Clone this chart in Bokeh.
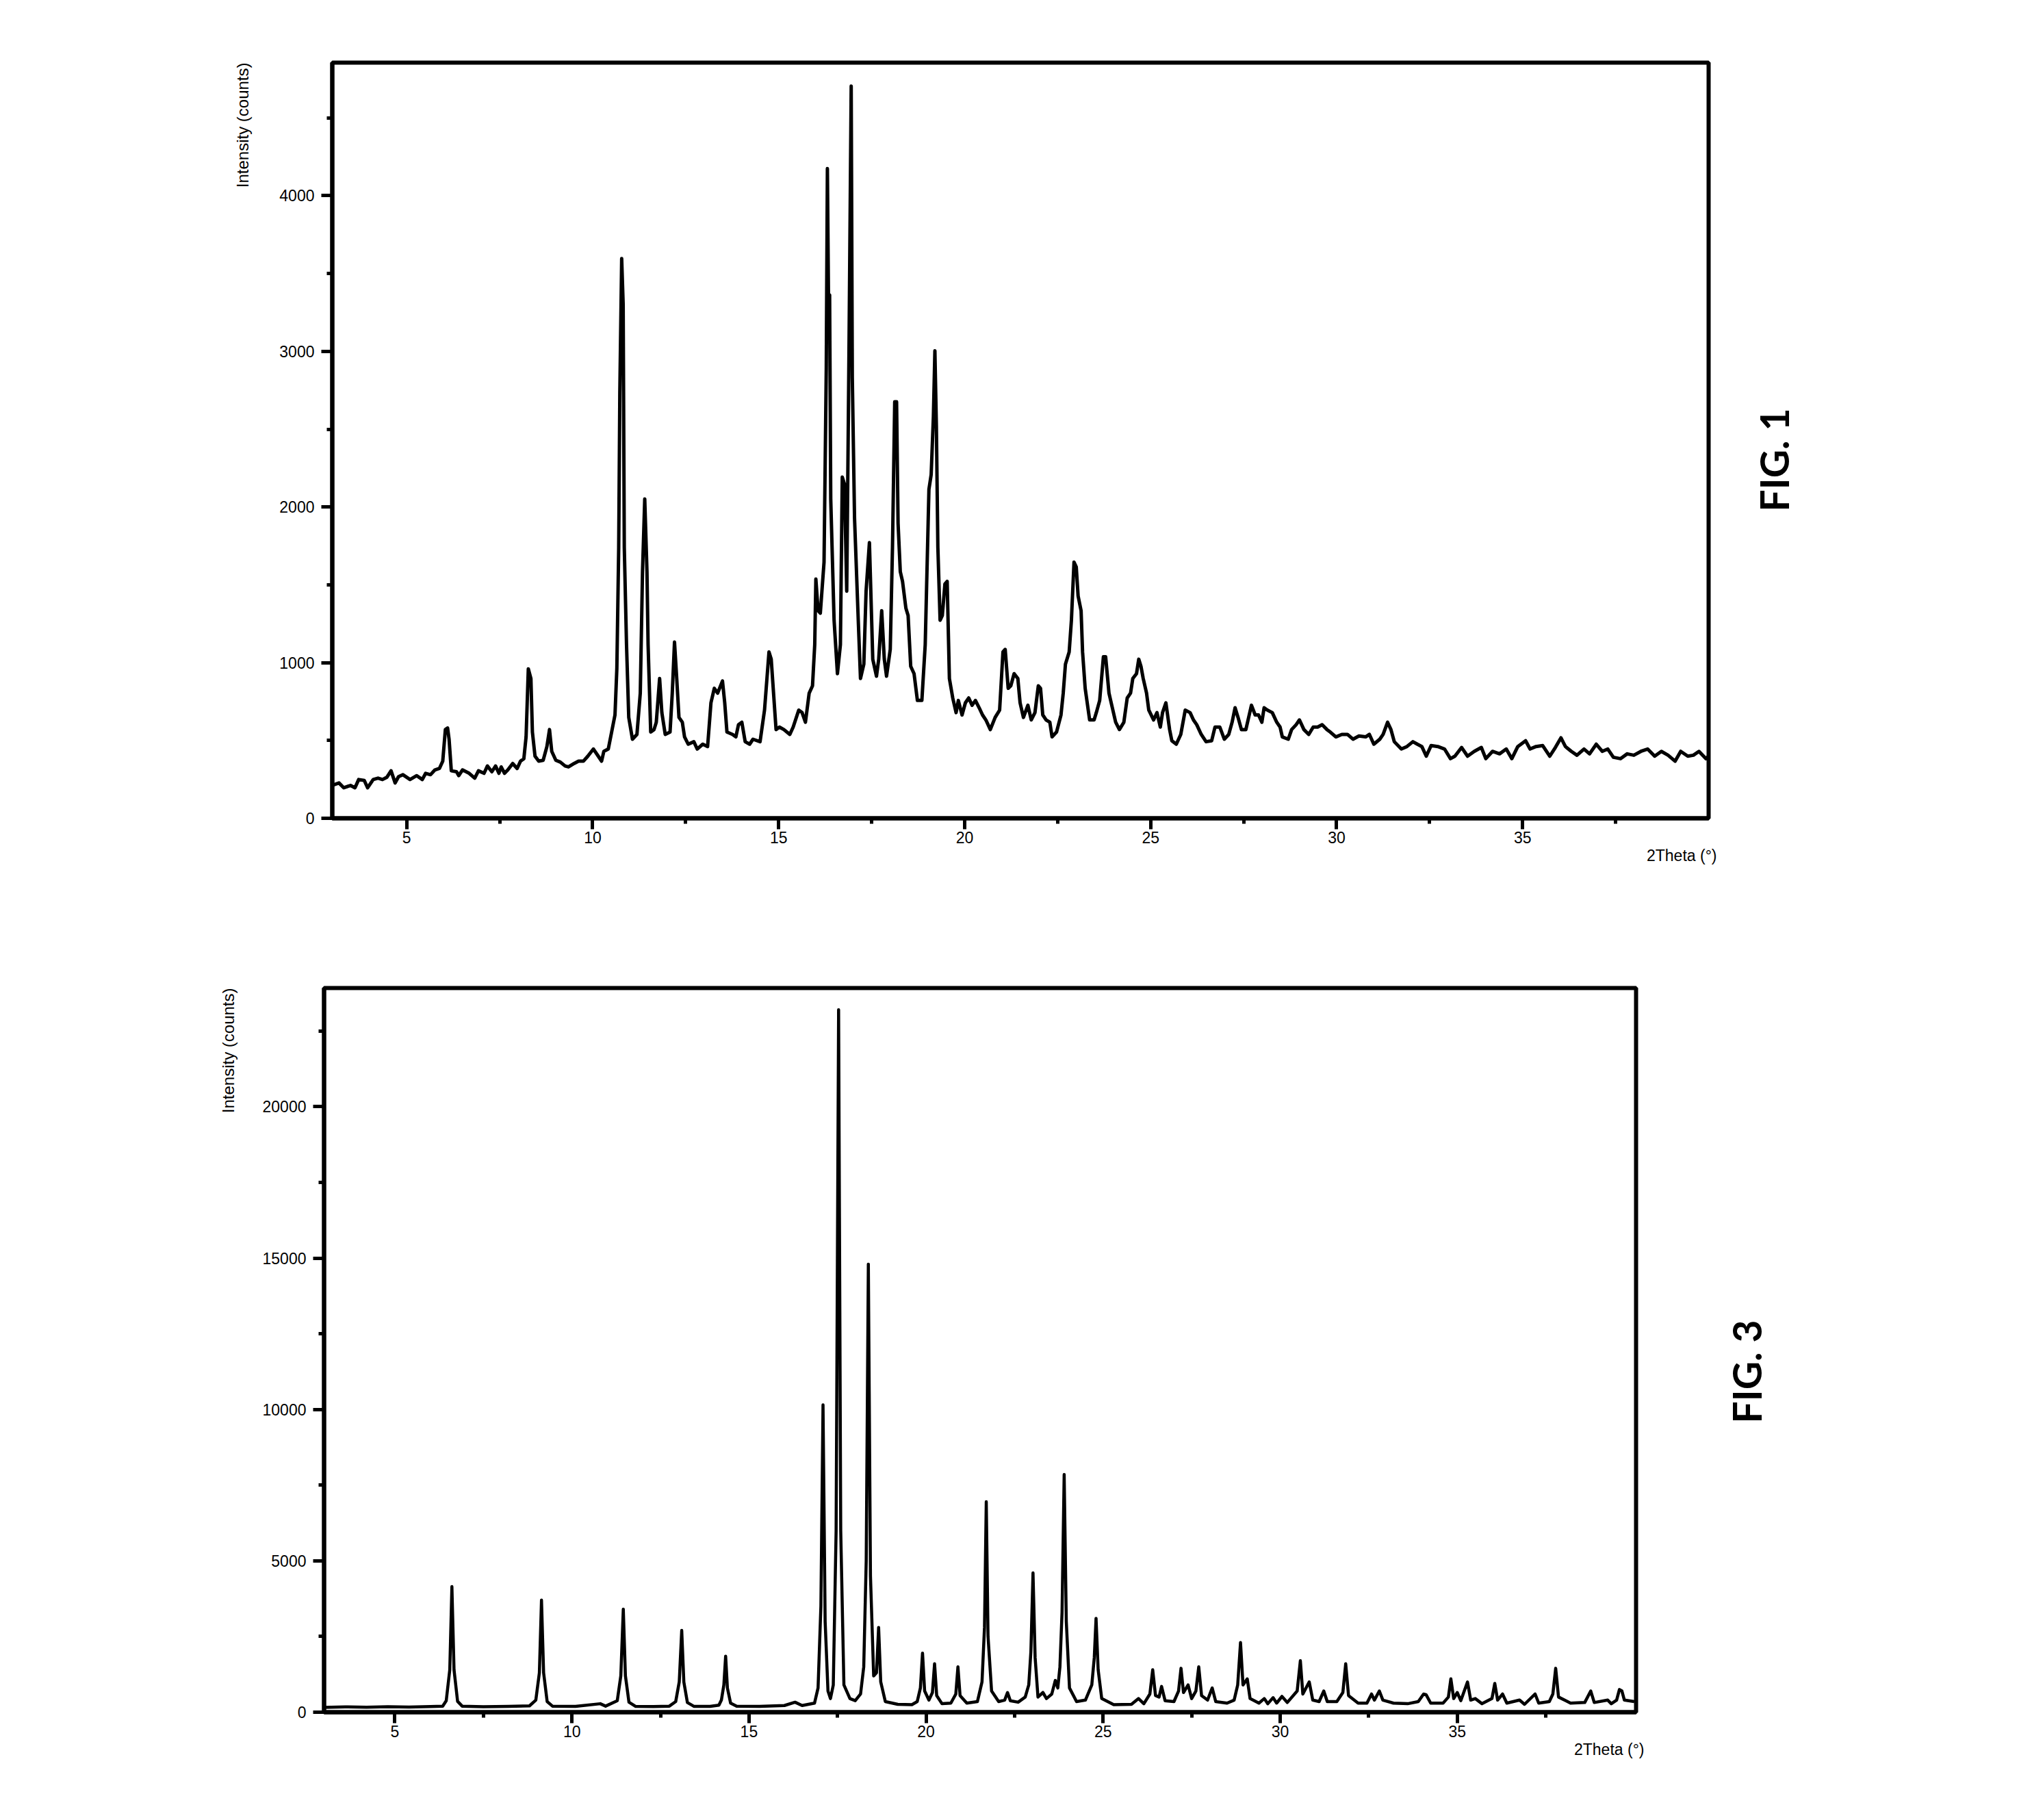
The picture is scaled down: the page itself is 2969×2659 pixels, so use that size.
import math
from bokeh.plotting import figure
from bokeh.layouts import row
from bokeh.models import Range1d, FixedTicker, Title
from bokeh.embed import file_html
from bokeh.resources import INLINE

# ---------------- FIG. 1 data (2Theta in degrees, intensity in counts) ----------------
fig1_x_a = [3.00, 3.18, 3.31, 3.49, 3.61, 3.71, 3.86, 3.95, 4.10, 4.23,
            4.35, 4.47, 4.58, 4.69, 4.78, 4.90, 5.09, 5.27, 5.42, 5.51,
            5.64, 5.76, 5.88, 5.97, 6.04, 6.10, 6.14, 6.20, 6.34, 6.40,
            6.50, 6.68, 6.83, 6.93, 7.08, 7.17, 7.29, 7.39, 7.48, 7.54,
            7.63, 7.72, 7.85, 7.97, 8.06, 8.15, 8.21, 8.27, 8.34, 8.38,
            8.45, 8.55, 8.67, 8.77, 8.84, 8.90, 9.01, 9.13, 9.26, 9.35,
            9.50, 9.62, 9.75, 9.87, 10.02, 10.15, 10.24, 10.30, 10.42, 10.51,
            10.60, 10.65, 10.70, 10.73, 10.78, 10.82, 10.85, 10.91, 10.97, 11.07,
            11.19, 11.28, 11.34, 11.40, 11.46, 11.49, 11.56, 11.65, 11.71, 11.80,
            11.86, 11.95, 12.08, 12.14, 12.20, 12.26, 12.32]
fig1_y_a = [211, 227, 196, 211, 196, 249, 243, 196, 249, 258,
            249, 264, 305, 227, 267, 280, 249, 274, 249, 289,
            280, 311, 320, 367, 570, 580, 508, 305, 299, 274,
            311, 289, 258, 305, 289, 336, 299, 336, 289, 330,
            289, 311, 352, 320, 367, 383, 523, 960, 898, 554,
            399, 367, 373, 461, 570, 430, 373, 361, 336, 330,
            352, 367, 367, 399, 445, 399, 367, 430, 445, 554,
            664, 960, 1740, 2738, 3596, 3300, 1740, 1116, 648, 508,
            539, 804, 1584, 2052, 1584, 1116, 554, 570, 617, 898,
            679, 539, 554, 804, 1132, 898, 648]

fig1_x_b = [12.41, 12.47, 12.57, 12.72, 12.81, 12.96, 13.09, 13.18, 13.27, 13.36,
            13.49, 13.55, 13.61, 13.76, 13.85, 13.92, 14.01, 14.10, 14.22, 14.31,
            14.50, 14.62, 14.74, 14.80, 14.93, 15.02, 15.14, 15.30, 15.39, 15.54,
            15.63, 15.72, 15.82, 15.91, 15.97, 16.00, 16.06, 16.12, 16.22, 16.28,
            16.31, 16.34, 16.37, 16.40, 16.49, 16.58, 16.66, 16.71, 16.77, 16.83,
            16.89, 16.95, 16.98, 17.04, 17.14, 17.20, 17.29, 17.35, 17.44, 17.53,
            17.63, 17.69, 17.77, 17.84, 17.90, 18.00, 18.06, 18.12, 18.17, 18.21,
            18.27, 18.33, 18.42, 18.48, 18.55, 18.64, 18.73, 18.85, 18.94, 19.04,
            19.10, 19.16, 19.20, 19.24, 19.28, 19.34, 19.40, 19.47, 19.53, 19.59,
            19.68, 19.77, 19.83, 19.93, 20.02, 20.11, 20.20, 20.29, 20.39, 20.48,
            20.57, 20.69, 20.82, 20.94, 21.03, 21.09, 21.17, 21.24, 21.33, 21.43,
            21.49]
fig1_y_b = [617, 523, 476, 492, 445, 476, 461, 742, 835, 804,
            882, 742, 554, 539, 523, 601, 617, 492, 476, 508,
            492, 695, 1069, 1022, 570, 586, 570, 539, 586, 695,
            679, 617, 804, 851, 1116, 1537, 1334, 1318, 1646, 2894,
            4174, 3331, 3362, 2052, 1272, 929, 1116, 2192, 2146, 1459,
            2988, 4704, 2832, 1927, 1272, 898, 991, 1459, 1771, 1022,
            913, 1022, 1334, 1022, 913, 1085, 1740, 2676, 2676, 1896,
            1584, 1522, 1350, 1303, 976, 929, 757, 757, 1116, 2114,
            2208, 2582, 3004, 2520, 1740, 1272, 1303, 1506, 1522, 898,
            773, 679, 757, 664, 742, 773, 726, 757, 710, 664,
            632, 570, 648, 695, 1069, 1085, 835, 851, 929, 898,
            742]

fig1_x_c = [21.58, 21.70, 21.79, 21.89, 21.98, 22.04, 22.10, 22.19, 22.29, 22.35,
            22.47, 22.59, 22.65, 22.71, 22.81, 22.87, 22.94, 23.00, 23.05, 23.13,
            23.17, 23.24, 23.36, 23.48, 23.54, 23.63, 23.73, 23.79, 23.88, 23.97,
            24.06, 24.16, 24.28, 24.37, 24.46, 24.52, 24.62, 24.68, 24.74, 24.80,
            24.89, 24.95, 25.08, 25.17, 25.26, 25.32, 25.41, 25.51, 25.57, 25.69,
            25.81, 25.93, 26.06, 26.15, 26.24, 26.36, 26.49, 26.64, 26.73, 26.86,
            26.98, 27.10, 27.19, 27.27, 27.35, 27.44, 27.56, 27.65, 27.71, 27.81,
            27.90, 27.99, 28.05, 28.14, 28.27, 28.39, 28.48, 28.54, 28.70, 28.79,
            28.91, 29.00, 29.12, 29.25, 29.37, 29.49, 29.61, 29.74, 29.83, 29.98,
            30.14, 30.29, 30.44, 30.60, 30.78]
fig1_y_c = [648, 726, 632, 679, 851, 835, 664, 632, 617, 523,
            554, 664, 804, 991, 1069, 1272, 1646, 1615, 1428, 1334,
            1069, 835, 632, 632, 679, 757, 1038, 1038, 804, 710,
            617, 570, 617, 773, 804, 898, 929, 1022, 976, 898,
            804, 695, 632, 679, 586, 679, 742, 570, 498, 476,
            539, 695, 679, 632, 601, 539, 492, 498, 586, 586,
            508, 539, 617, 710, 648, 570, 570, 664, 726, 664,
            664, 617, 710, 695, 679, 617, 586, 523, 508, 570,
            601, 632, 570, 539, 586, 586, 601, 570, 554, 523,
            539, 539, 508, 529, 523]

fig1_x_d = [30.88, 31.00, 31.16, 31.25, 31.37, 31.46, 31.55, 31.74, 31.89, 32.05,
            32.17, 32.29, 32.41, 32.54, 32.72, 32.90, 33.06, 33.18, 33.36, 33.52,
            33.70, 33.89, 34.01, 34.19, 34.38, 34.56, 34.71, 34.87, 35.08, 35.20,
            35.36, 35.54, 35.73, 35.88, 36.03, 36.15, 36.31, 36.46, 36.65, 36.80,
            36.98, 37.14, 37.29, 37.44, 37.63, 37.81, 37.99, 38.18, 38.36, 38.55,
            38.73, 38.91, 39.10, 39.25, 39.44, 39.59, 39.74, 39.93, 40.00]
fig1_y_d = [539, 476, 508, 539, 617, 570, 492, 445, 461, 492,
            476, 461, 399, 467, 461, 445, 383, 399, 455, 399,
            430, 455, 383, 430, 414, 445, 383, 461, 498, 445,
            461, 467, 399, 455, 517, 461, 430, 405, 445, 414,
            476, 430, 445, 392, 383, 414, 405, 430, 445, 399,
            430, 405, 367, 430, 399, 405, 430, 383, 400]

# ---------------- FIG. 3 data ----------------
fig3_x = [3.00, 3.60, 4.20, 4.80, 5.40, 6.00, 6.35,
          6.45, 6.55, 6.61, 6.67, 6.77, 6.90,
          7.50, 8.20, 8.80,
          8.98, 9.08, 9.14, 9.20, 9.30, 9.45,
          10.10, 10.80, 10.95,
          11.28, 11.38, 11.45, 11.51, 11.61, 11.80,
          12.30, 12.75,
          12.93, 13.03, 13.10, 13.16, 13.26, 13.45,
          13.90, 14.15,
          14.22, 14.29, 14.34, 14.39, 14.48, 14.65,
          15.30, 16.00, 16.30, 16.50, 16.85,
          16.95, 17.03, 17.09, 17.15, 17.23, 17.30,
          17.38, 17.46, 17.53, 17.59, 17.68, 17.85, 18.00, 18.15,
          18.24, 18.31, 18.37, 18.43, 18.52,
          18.60, 18.66, 18.72, 18.85,
          19.20, 19.60, 19.75,
          19.84, 19.90, 19.96, 20.08,
          20.18, 20.24, 20.30, 20.45, 20.70,
          20.84, 20.90, 20.96, 21.15, 21.45,
          21.58, 21.65, 21.70, 21.75, 21.85, 22.05,
          22.22, 22.30, 22.38, 22.60, 22.80,
          22.90, 22.96, 23.02, 23.08, 23.16,
          23.30, 23.40, 23.55, 23.65, 23.72,
          23.78, 23.84, 23.90, 23.96, 24.05, 24.25, 24.50,
          24.68, 24.75, 24.80, 24.86, 24.96, 25.30, 25.80,
          26.00, 26.15,
          26.32, 26.40, 26.48, 26.58,
          26.65, 26.75, 27.00,
          27.13, 27.20, 27.27,
          27.40, 27.50,
          27.62, 27.70, 27.78, 27.95,
          28.08, 28.18, 28.50, 28.70,
          28.80, 28.88, 28.95,
          29.07, 29.15, 29.40,
          29.55, 29.65, 29.80, 29.90, 30.05, 30.20,
          30.48, 30.57, 30.64,
          30.82, 30.92, 31.10,
          31.23, 31.33, 31.60,
          31.77, 31.85, 31.93, 32.20, 32.45,
          32.58, 32.66,
          32.80, 32.90, 33.20, 33.60, 33.90,
          34.05, 34.12, 34.25, 34.60,
          34.75, 34.82, 34.90,
          35.00, 35.10,
          35.29, 35.38,
          35.51, 35.70,
          35.98, 36.06, 36.14,
          36.28, 36.40,
          36.76, 36.90,
          37.20, 37.30, 37.60,
          37.70, 37.78, 37.86, 38.20, 38.60,
          38.77, 38.87,
          39.25, 39.35,
          39.50, 39.58, 39.65, 39.72, 40.00]
fig3_y = [160, 175, 165, 180, 170, 185, 200,
          380, 1400, 4150, 1400, 360, 200,
          180, 190, 210,
          400, 1300, 3700, 1300, 350, 200,
          190, 280, 200,
          380, 1200, 3400, 1200, 330, 190,
          185, 200,
          350, 1000, 2700, 1000, 320, 190,
          190, 230,
          400, 900, 1850, 800, 300, 200,
          190, 220, 330, 220, 300,
          800, 3500, 10150, 3000, 700, 450,
          900, 6000, 23200, 6000, 900, 450, 380, 600,
          1500, 5000, 14800, 4500, 1200,
          1300, 2800, 1000, 350,
          260, 250, 350,
          800, 1950, 700, 400,
          650, 1600, 550, 280, 300,
          600, 1500, 550, 300, 350,
          1000, 2800, 6950, 2500, 700, 350,
          400, 650, 380, 330, 500,
          900, 2000, 4600, 1800, 500,
          650, 450, 600, 1050, 800,
          1500, 3300, 7850, 3000, 800, 350, 400,
          900, 1800, 3100, 1400, 450, 250, 260,
          450, 280,
          600, 1400, 550, 500,
          850, 380, 350,
          700, 1450, 650,
          900, 450,
          700, 1500, 550, 400,
          800, 350, 300, 400,
          900, 2300, 900,
          1100, 450, 300,
          450, 280, 480, 300, 520, 320,
          700, 1700, 600,
          1000, 400, 350,
          700, 350, 350,
          650, 1600, 550, 300, 300,
          600, 400,
          700, 400, 300, 280, 350,
          600, 580, 300, 300,
          500, 1100, 450,
          650, 380,
          1000, 400,
          450, 280,
          450, 950, 400,
          600, 300,
          400, 260,
          600, 300, 350,
          600, 1450, 500, 300, 320,
          700, 320,
          400, 280,
          400, 750, 700, 400, 350]

fig1_x = fig1_x_a + fig1_x_b + fig1_x_c + fig1_x_d
fig1_y = fig1_y_a + fig1_y_b + fig1_y_c + fig1_y_d

x_major = [5, 10, 15, 20, 25, 30, 35]
x_minor = [7.5, 12.5, 17.5, 22.5, 27.5, 32.5, 37.5]
fig1_y_major = [0, 1000, 2000, 3000, 4000]
fig1_y_minor = [500, 1500, 2500, 3500, 4500]
fig3_y_major = [0, 5000, 10000, 15000, 20000]
fig3_y_minor = [2500, 7500, 12500, 17500, 22500]

FONT = "Liberation Sans"
TOTAL_W = 2969


def make_plot(w, h, left, right, top, bottom, xr, yr, ymaj, ymin):
    p = figure(width=w, height=h, output_backend="svg", toolbar_location=None,
               x_range=Range1d(*xr), y_range=Range1d(*yr),
               min_border_left=left, min_border_right=right,
               min_border_top=top, min_border_bottom=bottom)
    p.xgrid.visible = False
    p.ygrid.visible = False
    p.outline_line_color = "black"
    p.outline_line_width = 6
    p.background_fill_color = "white"
    p.border_fill_color = "white"
    p.xaxis[0].ticker = FixedTicker(ticks=x_major, minor_ticks=x_minor)
    p.yaxis[0].ticker = FixedTicker(ticks=ymaj, minor_ticks=ymin)
    for ax in (p.xaxis[0], p.yaxis[0]):
        ax.axis_line_width = 6
        ax.axis_line_color = "black"
        ax.major_tick_line_width = 5
        ax.minor_tick_line_width = 5
        ax.major_tick_line_color = "black"
        ax.minor_tick_line_color = "black"
        ax.major_tick_out = 16
        ax.major_tick_in = 0
        ax.minor_tick_out = 8
        ax.minor_tick_in = 0
        ax.major_label_text_font = FONT
        ax.major_label_text_font_size = "23px"
        ax.major_label_text_color = "black"
    p.xaxis[0].major_label_standoff = 3
    p.yaxis[0].major_label_standoff = 10
    return p


def add_axis_texts(p, ylabel_standoff, xlabel_offset):
    p.add_layout(Title(text="Intensity (counts)", align="right", standoff=ylabel_standoff,
                       text_font=FONT, text_font_size="24px", text_font_style="normal",
                       text_color="black"), "left")
    p.add_layout(Title(text="2Theta (°)", align="right", offset=xlabel_offset, standoff=0,
                       text_font=FONT, text_font_size="23px", text_font_style="normal",
                       text_color="black"), "below")


def make_side(w, h, top, bottom, text, offset):
    s = figure(width=w, height=h, output_backend="svg", toolbar_location=None,
               x_range=Range1d(0, 1), y_range=Range1d(0, 1),
               min_border_left=60, min_border_right=10,
               min_border_top=top, min_border_bottom=bottom)
    s.axis.visible = False
    s.xgrid.visible = False
    s.ygrid.visible = False
    s.outline_line_color = None
    s.background_fill_color = "white"
    s.border_fill_color = "white"
    s.add_layout(Title(text=text, align="left", offset=offset, standoff=10,
                       text_font="Lato", text_font_style="bold", text_font_size="57px",
                       text_color="black"), "left")
    return s


# ---- FIG. 1 ----
W1 = 2550
p1 = make_plot(W1, 1330, 485, W1 - 2496, 91, 135, (3, 40), (0, 4855), fig1_y_major, fig1_y_minor)
p1.line(fig1_x, fig1_y, line_color="black", line_width=5, line_join="round")
add_axis_texts(p1, 75, -12)
s1 = make_side(TOTAL_W - W1, 1330, 91, 135, "FIG. 1", 448)

# ---- FIG. 3 ----
W3 = 2510
p3 = make_plot(W3, 1329, 473, W3 - 2390, 113, 158, (3, 40.05), (0, 23920), fig3_y_major, fig3_y_minor)
p3.line(fig3_x, fig3_y, line_color="black", line_width=4.5, line_join="round")
add_axis_texts(p3, 67, -12)
s3 = make_side(TOTAL_W - W3, 1329, 113, 158, "FIG. 3", 422)

r1 = row(p1, s1, spacing=0)
r3 = row(p3, s3, spacing=0)
open("out.html", "w").write(file_html([r1, r3], INLINE))
